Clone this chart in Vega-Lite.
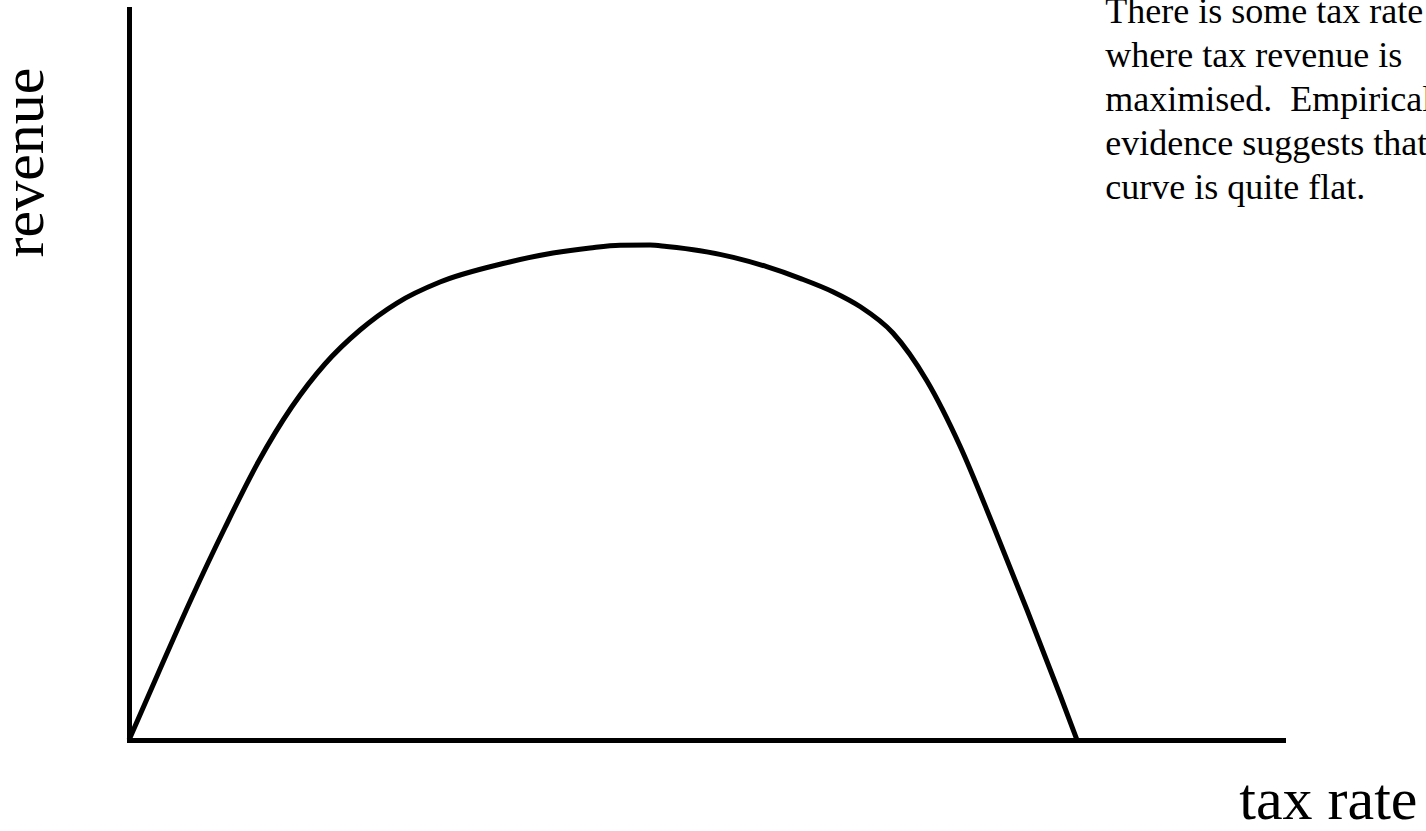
{
  "$schema": "https://vega.github.io/schema/vega-lite/v6.json",
  "autosize": {"type": "none"},
  "width": 1154,
  "height": 731,
  "padding": {"left": 129, "right": 143, "top": 9, "bottom": 91},
  "background": "white",
  "config": {
    "view": {"stroke": null},
    "font": "Liberation Serif",
    "axis": {
      "domain": true,
      "domainColor": "black",
      "domainWidth": 5,
      "domainCap": "square",
      "ticks": false,
      "labels": false,
      "grid": false,
      "titleFont": "Liberation Serif",
      "titleFontSize": 60,
      "titleFontWeight": "normal",
      "titleColor": "black"
    }
  },
  "datasets": {
    "curve": [
      {"rate": 0, "revenue": 0},
      {"rate": 2.54, "revenue": 9.17},
      {"rate": 5.43, "revenue": 19.43},
      {"rate": 8.32, "revenue": 29.07},
      {"rate": 11.20, "revenue": 38.03},
      {"rate": 14.10, "revenue": 45.55},
      {"rate": 16.98, "revenue": 51.44},
      {"rate": 20.02, "revenue": 56.09},
      {"rate": 23.22, "revenue": 59.78},
      {"rate": 26.95, "revenue": 62.65},
      {"rate": 32.41, "revenue": 65.18},
      {"rate": 36.74, "revenue": 66.62},
      {"rate": 39.95, "revenue": 67.31},
      {"rate": 42.55, "revenue": 67.68},
      {"rate": 45.15, "revenue": 67.72},
      {"rate": 46.59, "revenue": 67.51},
      {"rate": 49.48, "revenue": 66.94},
      {"rate": 52.37, "revenue": 66.03},
      {"rate": 55.26, "revenue": 64.75},
      {"rate": 58.15, "revenue": 63.16},
      {"rate": 61.03, "revenue": 61.29},
      {"rate": 63.34, "revenue": 59.30},
      {"rate": 66.20, "revenue": 55.68},
      {"rate": 69.15, "revenue": 49.11},
      {"rate": 72.01, "revenue": 40.22},
      {"rate": 74.87, "revenue": 29.41},
      {"rate": 77.82, "revenue": 17.78},
      {"rate": 80.68, "revenue": 6.16},
      {"rate": 82.15, "revenue": 0}
    ],
    "note": [
      {"rate": 84.6, "revenue": 98.1, "text": "There is some tax rate\nwhere tax revenue is\nmaximised.\u00a0 Empirical\nevidence suggests that\ncurve is quite flat."}
    ]
  },
  "layer": [
    {
      "data": {"name": "curve"},
      "mark": {"type": "line", "color": "black", "strokeWidth": 5, "interpolate": "monotone"},
      "encoding": {
        "x": {
          "field": "rate",
          "type": "quantitative",
          "scale": {"domain": [0, 100], "nice": false, "zero": false},
          "axis": {"title": "tax rate", "titleX": 1288, "titleY": 78, "titleAlign": "right", "titleBaseline": "alphabetic", "titleAnchor": null}
        },
        "y": {
          "field": "revenue",
          "type": "quantitative",
          "scale": {"domain": [0, 100], "nice": false, "zero": false},
          "axis": {"title": "revenue", "titleX": -87, "titleY": 153, "titleAngle": -90, "titleAlign": "center", "titleBaseline": "alphabetic", "titleAnchor": null}
        }
      }
    },
    {
      "data": {"name": "note"},
      "mark": {"type": "text", "font": "Liberation Serif", "fontSize": 36, "color": "black", "align": "left", "baseline": "alphabetic", "lineBreak": "\n", "lineHeight": 44},
      "encoding": {
        "x": {"field": "rate", "type": "quantitative"},
        "y": {"field": "revenue", "type": "quantitative"},
        "text": {"field": "text", "type": "nominal"}
      }
    }
  ]
}
